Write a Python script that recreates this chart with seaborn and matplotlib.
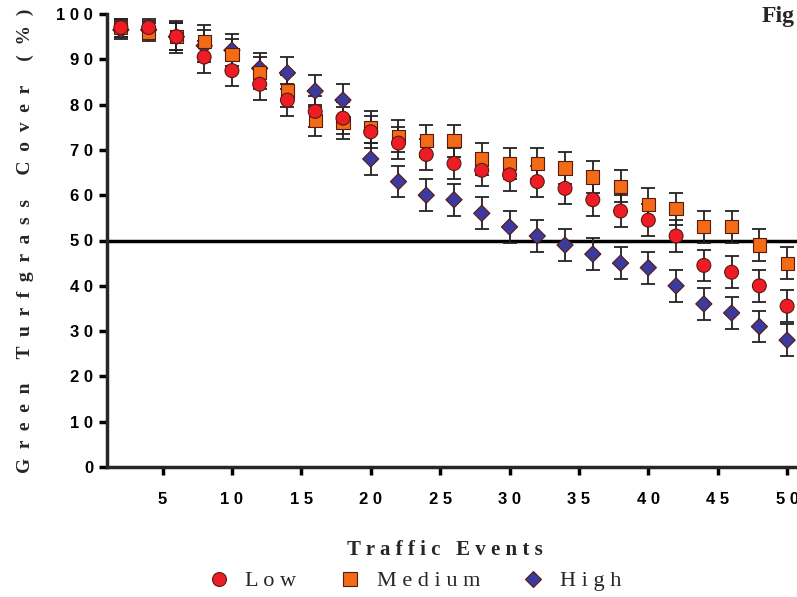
import numpy as np
import pandas as pd
import matplotlib
matplotlib.use("Agg")
import matplotlib.pyplot as plt
import seaborn as sns

# 数据：交通事件次数与绿色草坪覆盖率
traffic_events = [2, 4, 6, 8, 10, 12, 14, 16, 18, 20, 22, 24, 26,
                  28, 30, 32, 34, 36, 38, 40, 42, 44, 46, 48, 50]

low_cover = [97, 97, 95, 90.5, 87.5, 84.5, 81, 78.5, 77, 74, 71.5, 69, 67,
             65.5, 64.5, 63, 61.5, 59, 56.5, 54.5, 51, 44.5, 43, 40, 35.5]
medium_cover = [97, 96, 95, 94, 91, 87, 83, 76.5, 76, 75, 73, 72, 72,
                68, 67, 67, 66, 64, 62, 58, 57, 53, 53, 49, 45]
high_cover = [96.5, 96.5, 95, 93, 92, 88, 87, 83, 81, 68, 63, 60, 59,
              56, 53, 51, 49, 47, 45, 44, 40, 36, 34, 31, 28]

low_err = [2, 2, 3.5, 3.5, 3.5, 3.5, 3.5, 3.5, 3.5, 3.5, 3.5, 3.5, 3.5,
           3.5, 3.5, 3.5, 3.5, 3.5, 3.5, 3.5, 3.5, 3.5, 3.5, 3.5, 3.5]
medium_err = [2, 2, 3, 3.5, 3.5, 3.5, 3.5, 3.5, 3.5, 3.5, 3.5, 3.5, 3.5,
              3.5, 3.5, 3.5, 3.5, 3.5, 3.5, 3.5, 3.5, 3.5, 3.5, 3.5, 3.5]
high_err = [2, 2, 3, 3.5, 3.5, 3.5, 3.5, 3.5, 3.5, 3.5, 3.5, 3.5, 3.5,
            3.5, 3.5, 3.5, 3.5, 3.5, 3.5, 3.5, 3.5, 3.5, 3.5, 3.5, 3.5]

level_names = ["L o w", "M e d i u m", "H i g h"]
x_ticks = [5, 10, 15, 20, 25, 30, 35, 40, 45, 50]
y_ticks = [0, 10, 20, 30, 40, 50, 60, 70, 80, 90, 100]

sns.set_style("ticks")
plt.rcParams['font.family'] = ['Liberation Sans', 'DejaVu Sans']

colors = {"L o w": "#ee1c25", "M e d i u m": "#f26b16", "H i g h": "#3b3a9e"}
markers = {"L o w": "o", "M e d i u m": "s", "H i g h": "D"}
sizes = {"L o w": 100, "M e d i u m": 90, "H i g h": 68}

# 长表，先画 High 再画 Medium，最后 Low（Low 在最上层）
frames = []
for name, vals in zip(level_names[::-1], [high_cover, medium_cover, low_cover]):
    frames.append(pd.DataFrame({"events": traffic_events, "cover": vals, "level": name}))
df = pd.concat(frames, ignore_index=True)

fig = plt.figure(figsize=(7.97, 5.97), dpi=100)
ax = fig.add_axes([107 / 797, 130 / 597, 694 / 797, 453 / 597])

# 误差线
for vals, errs in zip([high_cover, medium_cover, low_cover], [high_err, medium_err, low_err]):
    ax.errorbar(traffic_events, vals, yerr=errs, fmt='none', ecolor='#222222',
                elinewidth=1.3, capsize=5, capthick=1.3, zorder=2)

sns.scatterplot(data=df, x="events", y="cover", hue="level", style="level", size="level",
                hue_order=level_names, style_order=level_names, size_order=level_names,
                palette=colors, markers=markers, sizes=sizes, edgecolor='#5a1a10',
                linewidth=0.8, zorder=3, ax=ax)

ax.axhline(50, color='black', lw=2.5, zorder=1)

ax.set_xlim(1, 51)
ax.set_ylim(0, 100)
ax.set_xticks(x_ticks)
ax.set_xticklabels([" ".join(str(t)) for t in x_ticks])
ax.set_yticks(y_ticks)
ax.set_yticklabels([" ".join(str(t)) for t in y_ticks])
for lbl in ax.get_xticklabels() + ax.get_yticklabels():
    lbl.set_fontweight('bold')
    lbl.set_fontsize(12)
ax.tick_params(axis='both', direction='out', length=6, width=2.5, colors='black')
ax.tick_params(axis='x', pad=12)
ax.tick_params(axis='y', pad=4)

sns.despine(ax=ax)
ax.spines['left'].set_linewidth(2.5)
ax.spines['bottom'].set_linewidth(2.5)

ax.set_xlabel("T r a f f i c   E v e n t s", family='Liberation Serif',
              fontweight='bold', fontsize=15, labelpad=24)
ax.xaxis.label.set_x(0.487)
ax.set_ylabel("G  r  e  e  n     T  u  r  f  g  r  a  s  s     C  o  v  e  r     (  %  )",
              family='Liberation Serif', fontweight='bold', fontsize=14, labelpad=16)

sns.move_legend(ax, "upper center", bbox_to_anchor=(0.435, -0.185), ncol=3,
                frameon=False, title=None, fontsize=16, columnspacing=1.4,
                handletextpad=0.2, markerscale=1.0)
for txt in ax.get_legend().get_texts():
    txt.set_family('Liberation Serif')

fig.text(762 / 797, 1 - 6 / 597, "Fig", family='Liberation Serif',
         fontweight='bold', fontsize=17, ha='left', va='top')

plt.savefig("out.png", dpi=100)
plt.close()
